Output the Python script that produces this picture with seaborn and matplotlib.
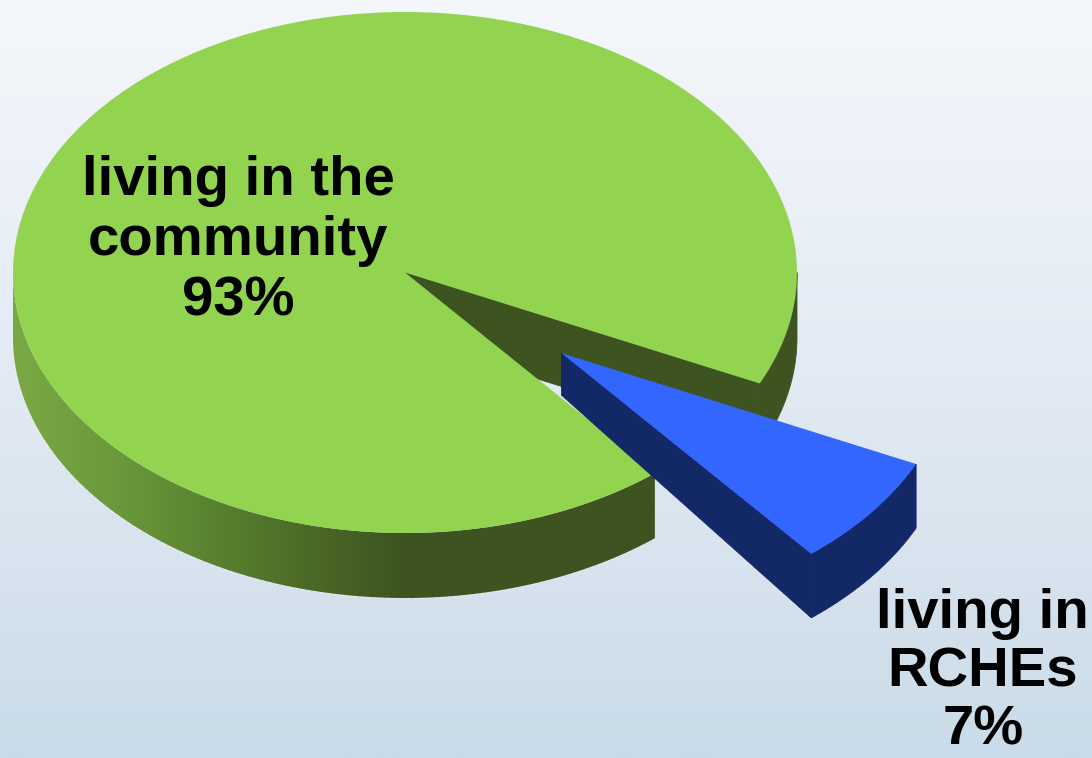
import numpy as np
import matplotlib
matplotlib.use("Agg")
import matplotlib.pyplot as plt
from matplotlib.patches import Polygon
import seaborn as sns

# Where older people live
categories = ["living in the\ncommunity", "living in\nRCHEs"]
shares = [93, 7]
explode = [0, 0.505]
top_colors = ["#92d350", "#3366ff"]

WIDTH_PX, HEIGHT_PX = 1092, 758
CENTER_PX = (405, 272.5)
RADIUS_PX = (392, 260.5)
DARK_GREEN = "#3d5420"
DARK_BLUE = "#132866"
RIM_DEPTH = 65 / RADIUS_PX[1]
BLUE_RIM_DEPTH = 64 / RADIUS_PX[1]
BLUE_APEX_DEPTH = 42 / RADIUS_PX[1]

sns.set_theme(style="white")
plt.rcParams["font.family"] = ["Liberation Sans", "DejaVu Sans"]

fig, ax = plt.subplots(figsize=(WIDTH_PX / 100, HEIGHT_PX / 100), dpi=100)
fig.subplots_adjust(0, 0, 1, 1)

wedges, _ = ax.pie(
    shares, explode=explode, colors=top_colors, startangle=-25.2, radius=1,
    wedgeprops={"linewidth": 0},
)
green, blue = wedges

# The pie is squashed by giving the axes different x and y scales
ax.set_aspect("auto")
xlim = (-CENTER_PX[0] / RADIUS_PX[0], (WIDTH_PX - CENTER_PX[0]) / RADIUS_PX[0])
ylim = ((CENTER_PX[1] - HEIGHT_PX) / RADIUS_PX[1], CENTER_PX[1] / RADIUS_PX[1])

# Page background
backdrop = sns.blend_palette(["#f4f7fb", "#ecf1f8", "#e2eaf3", "#d7e3ee", "#c9dbe9"], as_cmap=True)
ax.imshow(np.linspace(0, 1, 256)[:, None], cmap=backdrop, aspect="auto",
          extent=(0, 1, 0, 1), origin="upper", transform=ax.transAxes, zorder=0)


def arc(center, start, stop, n=200):
    t = np.radians(np.linspace(start, stop, n))
    return np.column_stack([center[0] + np.cos(t), center[1] + np.sin(t)])


def band(center, start, stop, depth):
    upper = arc(center, start, stop)
    lower = upper[::-1] - [0, depth]
    return np.vstack([upper, lower])


def solid(points, color, zorder):
    ax.add_patch(Polygon(points, closed=True, facecolor=color, edgecolor=color,
                         linewidth=0.6, zorder=zorder))


# Green rim: shaded from the left edge towards the front, dark past that
green_end = green.theta2 % 360
green_start = green.theta1 % 360 - 360
front = Polygon(band(green.center, 180, green_end, RIM_DEPTH), closed=True,
                facecolor="none", edgecolor="none", transform=ax.transData)
ax.add_patch(front)
shade = sns.blend_palette(["#7aa944", "#6c9a3c", "#5a8330", "#4b6a27", DARK_GREEN], as_cmap=True)
rim = ax.imshow(np.r_[np.linspace(0, 1, 256), np.ones(256)][None, :], cmap=shade, aspect="auto",
                extent=(-1, 1, -1.4, 0.2), zorder=2)
rim.set_clip_path(front)

# Dark rim to the right of the gap and the exposed cut face inside it
solid(band(green.center, green_start, 0, RIM_DEPTH), DARK_GREEN, 2)
cut = np.array([np.cos(np.radians(green_start)), np.sin(np.radians(green_start))])
solid([green.center, cut, cut - [0, RIM_DEPTH], np.array(green.center) - [0, RIM_DEPTH]],
      DARK_GREEN, 2)

# Blue slice: outer rim plus the near cut face, thinner towards the apex
apex = np.array(blue.center)
solid(band(apex, blue.theta1 % 360, blue.theta2 % 360, BLUE_RIM_DEPTH), DARK_BLUE, 4)
corner = apex + [np.cos(np.radians(blue.theta1)), np.sin(np.radians(blue.theta1))]
solid([apex, corner, corner - [0, BLUE_RIM_DEPTH], apex - [0, BLUE_APEX_DEPTH]], DARK_BLUE, 4)

# Pale fringe along the lower edges of both rims
fringe = dict(color="white", alpha=0.4, linewidth=1.6, linestyle=(0, (1.5, 1.5)), zorder=1.5)
bottom = arc(green.center, 180, green_end) - [0, RIM_DEPTH]
ax.plot(bottom[:, 0], bottom[:, 1], **fringe)
blue_bottom = np.vstack([
    [apex - [0, BLUE_APEX_DEPTH]],
    arc(apex, blue.theta1 % 360, blue.theta2 % 360) - [0, BLUE_RIM_DEPTH],
])
ax.plot(blue_bottom[:, 0], blue_bottom[:, 1], **fringe)

green.set_zorder(3)
blue.set_zorder(5)

label_style = dict(ha="center", va="center", fontsize=40.5, fontweight="bold",
                   color="black", zorder=6)
ax.text(-0.426, 0.12, f"{categories[0]}\n{shares[0]}%", linespacing=1.215, **label_style)
ax.text(1.474, -1.535, f"{categories[1]}\n{shares[1]}%", linespacing=1.15, **label_style)

ax.set_xlim(xlim)
ax.set_ylim(ylim)
ax.axis("off")
fig.savefig("out.png", dpi=100)
